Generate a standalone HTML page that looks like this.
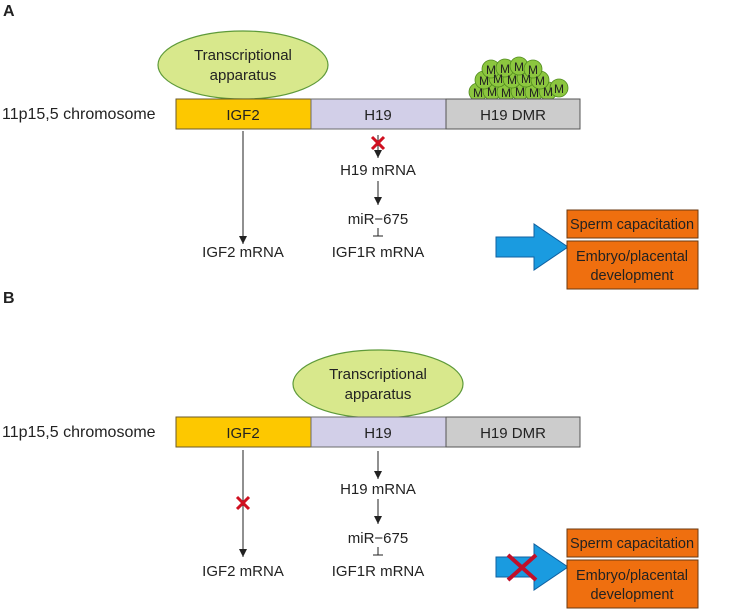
<!DOCTYPE html>
<html><head><meta charset="utf-8"><style>body{margin:0;background:#fff}svg{display:block}text{font-family:"Liberation Sans",sans-serif;fill:#222}</style></head>
<body>
<svg width="733" height="610" viewBox="0 0 733 610" xmlns="http://www.w3.org/2000/svg">
<defs>
<marker id="ah" viewBox="0 0 10 10" refX="10" refY="5" markerWidth="8" markerHeight="8" markerUnits="userSpaceOnUse" orient="auto"><path d="M0,0L10,5L0,10z" fill="#222"/></marker>
<g id="chrom">
<rect x="176" y="0" width="135" height="30" fill="#fdc800" stroke="#6b5a2a"/>
<rect x="311" y="0" width="135" height="30" fill="#d2cfe8" stroke="#6b6b6b"/>
<rect x="446" y="0" width="134" height="30" fill="#cccccc" stroke="#555"/>
<text x="2" y="20" font-size="16">11p15,5 chromosome</text>
<text x="243" y="21" font-size="15" text-anchor="middle">IGF2</text>
<text x="378" y="21" font-size="15" text-anchor="middle">H19</text>
<text x="513" y="21" font-size="15" text-anchor="middle">H19 DMR</text>
</g>
<g id="orange">
<rect x="567" y="0" width="131" height="28" fill="#ef6f0f" stroke="#6b3a10"/>
<text x="632" y="19" font-size="14.5" text-anchor="middle">Sperm capacitation</text>
<rect x="567" y="31" width="131" height="48" fill="#ef6f0f" stroke="#6b3a10"/>
<text x="632" y="51" font-size="14.5" text-anchor="middle">Embryo/placental</text>
<text x="632" y="70" font-size="14.5" text-anchor="middle">development</text>
</g>
<path id="blue" d="M496,-10 H534 V-23 L568,0 L534,23 V10 H496 Z" fill="#1a9be0" stroke="#1060a0"/>
</defs>

<!-- Panel A -->
<text x="3" y="16" font-size="16" font-weight="bold">A</text>
<ellipse cx="243" cy="65" rx="85" ry="34" fill="#d8e88c" stroke="#5e9a3a" stroke-width="1.2"/>
<text x="243" y="60" font-size="15" text-anchor="middle">Transcriptional</text>
<text x="243" y="80" font-size="15" text-anchor="middle">apparatus</text>
<g fill="#8cc63f" stroke="#4f8a1c" stroke-width="0.8">
<circle cx="478" cy="92" r="9"/><circle cx="492" cy="91" r="9"/><circle cx="506" cy="92" r="9"/><circle cx="520" cy="91" r="9"/><circle cx="534" cy="92" r="9"/><circle cx="548" cy="91" r="9"/><circle cx="559" cy="88" r="9"/>
<circle cx="484" cy="80" r="9"/><circle cx="498" cy="78" r="9"/><circle cx="512" cy="79" r="9"/><circle cx="526" cy="78" r="9"/><circle cx="540" cy="80" r="9"/>
<circle cx="491" cy="69" r="9"/><circle cx="505" cy="68" r="9"/><circle cx="519" cy="66" r="9"/><circle cx="533" cy="69" r="9"/>
</g>
<g font-size="12" text-anchor="middle">
<text x="478" y="97">M</text><text x="492" y="96">M</text><text x="506" y="97">M</text><text x="520" y="96">M</text><text x="534" y="97">M</text><text x="548" y="96">M</text><text x="559" y="93">M</text>
<text x="484" y="85">M</text><text x="498" y="83">M</text><text x="512" y="84">M</text><text x="526" y="83">M</text><text x="540" y="85">M</text>
<text x="491" y="74">M</text><text x="505" y="73">M</text><text x="519" y="71">M</text><text x="533" y="74">M</text>
</g>
<use href="#chrom" y="99"/>
<line x1="243" y1="131" x2="243" y2="244" stroke="#222" marker-end="url(#ah)"/>
<text x="243" y="257" font-size="15" text-anchor="middle">IGF2 mRNA</text>
<line x1="378" y1="135" x2="378" y2="158" stroke="#222" marker-end="url(#ah)"/>
<path d="M372,137 L384,149 M384,137 L372,149" stroke="#d01020" stroke-width="3"/>
<text x="378" y="175" font-size="15" text-anchor="middle">H19 mRNA</text>
<line x1="378" y1="181" x2="378" y2="205" stroke="#222" marker-end="url(#ah)"/>
<text x="378" y="224" font-size="15" text-anchor="middle">miR−675</text>
<path d="M378,228 V236 M373,236 H383" stroke="#222"/>
<text x="378" y="257" font-size="15" text-anchor="middle">IGF1R mRNA</text>
<use href="#blue" y="247"/>
<use href="#orange" y="210"/>

<!-- Panel B -->
<text x="3" y="303" font-size="16" font-weight="bold">B</text>
<ellipse cx="378" cy="384" rx="85" ry="34" fill="#d8e88c" stroke="#5e9a3a" stroke-width="1.2"/>
<text x="378" y="379" font-size="15" text-anchor="middle">Transcriptional</text>
<text x="378" y="399" font-size="15" text-anchor="middle">apparatus</text>
<use href="#chrom" y="417"/>
<line x1="243" y1="450" x2="243" y2="557" stroke="#222" marker-end="url(#ah)"/>
<path d="M237,497 L249,509 M249,497 L237,509" stroke="#d01020" stroke-width="3"/>
<text x="243" y="576" font-size="15" text-anchor="middle">IGF2 mRNA</text>
<line x1="378" y1="451" x2="378" y2="479" stroke="#222" marker-end="url(#ah)"/>
<text x="378" y="494" font-size="15" text-anchor="middle">H19 mRNA</text>
<line x1="378" y1="499" x2="378" y2="524" stroke="#222" marker-end="url(#ah)"/>
<text x="378" y="543" font-size="15" text-anchor="middle">miR−675</text>
<path d="M378,547 V555 M373,555 H383" stroke="#222"/>
<text x="378" y="576" font-size="15" text-anchor="middle">IGF1R mRNA</text>
<use href="#blue" y="567"/>
<path d="M508,555 L536,580 M536,555 L508,580" stroke="#c0102a" stroke-width="4"/>
<use href="#orange" y="529"/>
</svg>
</body></html>
